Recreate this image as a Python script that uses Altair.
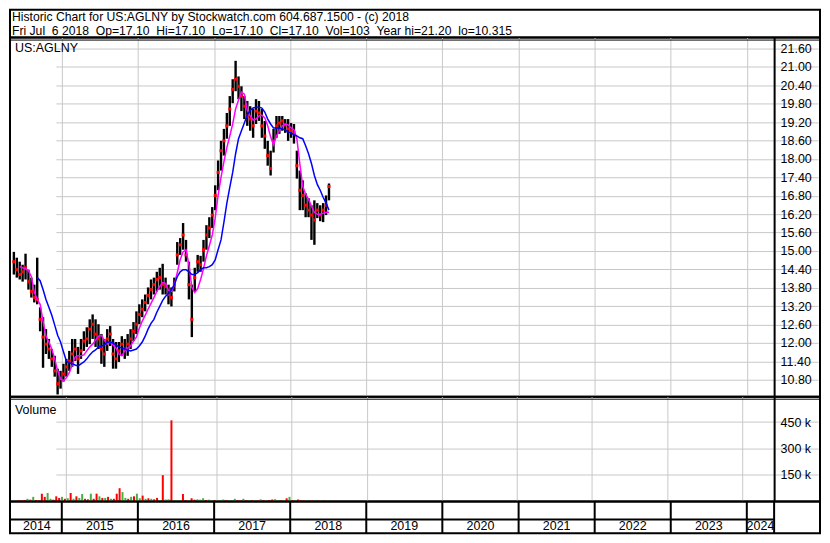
import altair as alt
import pandas as pd

FONT = "Liberation Sans"
GRID = "#c8c8c8"

header_line1 = "Historic Chart for US:AGLNY by Stockwatch.com 604.687.1500 - (c) 2018"
header_line2 = ("Fri Jul\u00a0\u00a06 2018\u00a0\u00a0Op=17.10\u00a0\u00a0Hi=17.10\u00a0\u00a0Lo=17.10"
                "\u00a0\u00a0Cl=17.10\u00a0\u00a0Vol=103\u00a0\u00a0Year hi=21.20\u00a0\u00a0lo=10.315")
symbol_label = "US:AGLNY"
volume_label = "Volume"

first_date = "2014-05-16"
step_days = 14

high = [14.97, 14.78, 14.65, 14.55, 14.91, 14.39, 14.13, 13.90, 14.78, 13.16,
        12.84, 12.45, 12.13, 11.80, 11.58, 11.16, 11.09, 11.32, 11.48, 11.74,
        12.13, 12.13, 11.87, 12.13, 12.38, 12.51, 12.77, 12.93, 12.77, 12.61,
        12.29, 12.13, 12.45, 12.55, 12.13, 12.03, 12.03, 12.22, 12.13, 12.29,
        12.45, 12.68, 13.03, 13.26, 13.42, 13.58, 13.81, 14.07, 14.13, 14.32,
        14.45, 14.58, 14.13, 13.90, 13.81, 14.13, 15.29, 15.42, 15.91, 15.36,
        14.65, 13.90, 14.45, 14.87, 14.84, 15.36, 15.84, 16.10, 16.43, 17.14,
        17.95, 18.59, 18.98, 19.50, 20.05, 20.60, 21.20, 20.69, 20.37, 20.05,
        19.89, 19.72, 19.63, 19.95, 19.89, 19.63, 19.24, 18.59, 18.27, 18.98,
        19.40, 19.40, 19.40, 19.30, 19.30, 19.17, 19.14, 18.27, 17.62, 17.30,
        16.88, 16.72, 16.49, 16.65, 16.56, 16.49, 16.56, 16.81, 17.20]
low = [14.23, 14.13, 14.07, 14.00, 14.07, 13.74, 13.48, 13.32, 13.26, 12.38,
       11.19, 11.64, 11.48, 11.22, 10.90, 10.32, 10.51, 10.74, 10.90, 11.09,
       11.22, 11.41, 10.99, 11.48, 11.74, 11.87, 11.96, 12.13, 11.87, 11.80,
       11.32, 11.22, 11.74, 11.90, 11.16, 11.16, 11.38, 11.58, 11.48, 11.58,
       11.80, 12.06, 12.29, 12.61, 12.84, 13.03, 13.26, 13.42, 13.58, 13.68,
       13.74, 13.58, 13.58, 13.26, 13.19, 13.68, 14.55, 14.87, 15.04, 14.65,
       13.42, 12.19, 13.68, 14.32, 14.32, 14.65, 15.04, 15.42, 15.75, 16.33,
       16.98, 17.62, 18.11, 18.66, 19.08, 19.82, 20.21, 19.95, 19.56, 19.30,
       19.08, 18.92, 18.69, 19.14, 19.24, 18.69, 18.33, 17.78, 17.46, 18.21,
       18.69, 18.82, 18.92, 18.85, 18.59, 18.69, 18.50, 17.36, 16.33, 16.33,
       16.10, 16.10, 15.36, 15.20, 16.07, 15.97, 15.94, 16.17, 16.65]
close = [14.65, 14.39, 14.23, 14.32, 14.45, 14.00, 13.68, 13.48, 13.42, 12.77,
         12.19, 11.96, 11.80, 11.48, 11.09, 10.67, 10.83, 10.99, 11.22, 11.41,
         11.64, 11.80, 11.48, 11.74, 12.06, 12.13, 12.45, 12.61, 12.29, 12.13,
         11.80, 11.64, 12.13, 12.29, 11.64, 11.48, 11.74, 11.96, 11.80, 11.96,
         12.13, 12.38, 12.61, 12.93, 13.10, 13.32, 13.55, 13.74, 13.90, 14.07,
         14.13, 13.90, 13.84, 13.58, 13.48, 13.90, 14.87, 15.20, 15.52, 14.87,
         13.90, 12.77, 14.13, 14.65, 14.55, 15.04, 15.52, 15.75, 16.17, 16.81,
         17.56, 18.27, 18.59, 19.08, 19.63, 20.27, 20.60, 20.37, 20.05, 19.72,
         19.40, 19.30, 19.08, 19.56, 19.50, 19.08, 18.75, 18.11, 17.69, 18.59,
         19.08, 19.17, 19.24, 19.11, 18.98, 18.92, 18.85, 17.78, 16.98, 16.81,
         16.49, 16.33, 16.17, 16.01, 16.33, 16.17, 16.33, 16.49, 17.10]
ma_short = [None, None,
            14.49, 14.45, 14.42, 14.36, 14.16, 13.65, 13.42, 13.26, 12.71, 12.22,
            12.03, 11.80, 11.48, 11.09, 10.83, 10.77, 10.86, 11.03, 11.28, 11.54,
            11.58, 11.58, 11.61, 11.74, 11.87, 11.96, 12.09, 12.22, 12.25, 12.09,
            11.96, 12.03, 11.93, 11.83, 11.64, 11.58, 11.74, 11.83, 11.90, 12.06,
            12.19, 12.48, 12.71, 12.90, 13.10, 13.29, 13.48, 13.68, 13.84, 13.97,
            13.94, 13.71, 13.68, 13.90, 14.29, 14.71, 14.97, 15.04, 14.55, 13.81,
            13.65, 13.77, 14.07, 14.42, 14.84, 15.17, 15.52, 16.07, 16.81, 17.40,
            17.91, 18.37, 18.75, 19.14, 19.63, 19.92, 20.18, 20.11, 19.59, 19.40,
            19.27, 19.30, 19.40, 19.43, 19.34, 19.08, 18.72, 18.46, 18.75, 18.92,
            19.08, 19.14, 19.11, 19.01, 18.95, 18.66, 17.85, 17.11, 16.85, 16.68,
            16.46, 16.26, 16.20, 16.20, 16.23, 16.26, 16.26]
ma_long = [None, None, None, None, None, None, None, None,
           14.13, 14.03, 13.74, 13.42, 13.16, 12.90, 12.58, 12.25, 12.03, 11.71,
           11.41, 11.35, 11.32, 11.28, 11.25, 11.32, 11.38, 11.48, 11.61, 11.71,
           11.77, 11.87, 11.90, 11.93, 12.03, 12.03, 12.00, 11.93, 11.87, 11.83,
           11.80, 11.77, 11.74, 11.77, 11.80, 11.90, 12.03, 12.22, 12.45, 12.64,
           12.77, 13.00, 13.19, 13.39, 13.52, 13.61, 13.74, 13.90, 14.16, 14.32,
           14.39, 14.39, 14.32, 14.23, 14.23, 14.29, 14.39, 14.45, 14.45, 14.49,
           14.55, 14.71, 15.04, 15.36, 15.94, 16.56, 17.07, 17.56, 18.17, 18.66,
           18.92, 19.17, 19.43, 19.59, 19.66, 19.69, 19.69, 19.66, 19.53, 19.30,
           19.14, 19.01, 19.01, 19.01, 18.98, 18.95, 18.88, 18.85, 18.79, 18.75,
           18.69, 18.66, 18.43, 18.17, 17.85, 17.46, 17.17, 16.98, 16.75, 16.56,
           16.33]
volume_k = [7, 6, 8, 15, 10, 26, 8, 6, 44, 26,
            48, 15, 10, 29, 20, 26, 15, 18, 48, 15,
            29, 20, 42, 15, 12, 44, 15, 44, 29, 20,
            20, 26, 15, 15, 44, 75, 53, 20, 15, 26,
            29, 44, 18, 33, 15, 18, 15, 12, 20, 8,
            149, 11, 12, 460, 8, 8, 8, 42, 8, 8,
            18, 10, 12, 10, 18, 8, 10, 7, 7, 6,
            7, 11, 7, 7, 6, 15, 7, 6, 15, 7,
            6, 7, 7, 6, 12, 7, 6, 8, 11, 13,
            7, 6, 7, 18, 26, 7, 6, 11, 7, 6,
            7, 5, 6, 7, 5, 6, 5, 6, 4]
volume_dir = list("dddududddd" "uudddududu" "duudduddud" "ududdduudu" "duudududdu"
                  "duuduuuddu" "dduuuduudu" "uuduuuddud" "ududududdu" "ududududdd"
                  "uddududuu")
price_ticks = [10.80, 11.40, 12.00, 12.60, 13.20, 13.80, 14.40, 15.00, 15.60, 16.20,
               16.80, 17.40, 18.00, 18.60, 19.20, 19.80, 20.40, 21.00, 21.60]
volume_ticks = [150000, 300000, 450000]
years = [2014, 2015, 2016, 2017, 2018, 2019, 2020, 2021, 2022, 2023, 2024]
view_start = "2014-05-07"
view_end = "2024-05-11"

# ---- layout
W = 812
PLOT_R = 766
H_HEAD, H_PRICE, H_VOL, H_YEAR = 28, 360, 105, 32
FS = 12.5

n = len(close)
dates = pd.date_range(first_date, periods=n, freq=f"{step_days}D")
df = pd.DataFrame({
    "date": dates.strftime("%Y-%m-%d"),
    "high": high, "low": low, "close": close,
    "ma_short": ma_short, "ma_long": ma_long,
    "volume": [v * 1000 for v in volume_k],
    "dir": ["up" if d == "u" else "down" for d in volume_dir],
})

t0 = pd.Timestamp(view_start)
t1 = pd.Timestamp(view_end)


def dt(ts):
    return alt.DateTime(year=ts.year, month=ts.month, date=ts.day, utc=True)


x_scale = alt.Scale(domain=[dt(t0), dt(t1)], range=[2, PLOT_R])
year_starts = [alt.DateTime(year=y, month=1, date=1, utc=True) for y in years[1:]]
x_grid_axis = alt.Axis(values=year_starts, grid=True, labels=False, ticks=False, domain=False,
                       title=None, gridColor=GRID, gridWidth=1)


def xg():
    return alt.X("date:T", scale=x_scale, axis=x_grid_axis)


price_scale = alt.Scale(domain=[10.247, 21.958], nice=False, zero=False)
price_axis = alt.Axis(values=price_ticks, format=".2f", orient="right", offset=-(W - PLOT_R),
                      ticks=False, domain=True, domainColor="black", domainWidth=2,
                      grid=True, gridColor=GRID, gridWidth=1, labelPadding=6, labelOverlap=False,
                      title=None, labelFont=FONT, labelFontSize=FS, labelColor="black",
                      labelAlign="left", labelBaseline="middle")


def yp(field):
    return alt.Y(field, type="quantitative", scale=price_scale, axis=price_axis)


def deco_rule(x, x2, y, y2=None, width=1):
    enc = dict(x=alt.value(x), y=alt.value(y))
    if x2 is not None:
        enc["x2"] = alt.value(x2)
    if y2 is not None:
        enc["y2"] = alt.value(y2)
    return alt.Chart(pd.DataFrame({"k": [0]})).mark_rule(color="black", strokeWidth=width).encode(**enc)


def label_text(txt, x, y, size=FS):
    return alt.Chart(pd.DataFrame({"t": [txt]})).mark_text(
        align="left", baseline="middle", font=FONT, fontSize=size, color="black"
    ).encode(x=alt.value(x), y=alt.value(y), text="t:N")


# ---- header
header = alt.layer(
    label_text(header_line1, 2, 7, 12.2),
    label_text(header_line2, 2, 21, 12.2),
).properties(width=W, height=H_HEAD)

# ---- price panel
base = alt.Chart(df)
bars = base.mark_rule(color="black", strokeWidth=2.4).encode(x=xg(), y=yp("low"), y2="high:Q")
closes = base.mark_square(color="#ff0000", size=9, opacity=1).encode(x=xg(), y=yp("close"))
mag = base.mark_line(color="#ff00ff", strokeWidth=1.5).encode(x=xg(), y=yp("ma_short"))
blue = base.mark_line(color="#0000ff", strokeWidth=1.5).encode(x=xg(), y=yp("ma_long"))
price = alt.layer(
    bars, closes, mag, blue,
    label_text(symbol_label, 5, 10.5),
    deco_rule(0, W, 2.5),
).properties(width=W, height=H_PRICE)

# ---- volume panel
vol_axis = alt.Axis(values=volume_ticks, labelExpr="datum.value / 1000 + ' k'", orient="right",
                    offset=-(W - PLOT_R), ticks=False, domain=True, domainColor="black",
                    domainWidth=2, grid=True, gridColor=GRID, gridWidth=1, labelPadding=6,
                    title=None, labelFont=FONT, labelFontSize=FS, labelColor="black",
                    labelAlign="left", labelBaseline="middle")
vbars = base.mark_bar(size=2).encode(
    x=xg(),
    y=alt.Y("volume:Q", scale=alt.Scale(domain=[0, 594000], nice=False), axis=vol_axis),
    color=alt.Color("dir:N", scale=alt.Scale(domain=["down", "up"], range=["#ff0000", "#44b044"]),
                    legend=None),
)
volume = alt.layer(
    vbars,
    label_text(volume_label, 5, 13),
    deco_rule(0, W, 2.5),
).properties(width=W, height=H_VOL)

# ---- year strip
starts_df = pd.DataFrame({"start": [f"{y}-01-01" for y in years[1:]]})
mids = []
for y in years:
    s = max(pd.Timestamp(f"{y}-01-01"), t0)
    e = min(pd.Timestamp(f"{y + 1}-01-01"), t1)
    mids.append((s + (e - s) / 2).strftime("%Y-%m-%dT%H:%M:%SZ"))
labels_df = pd.DataFrame({"year": [str(y) for y in years], "mid": mids})

year_lines = alt.Chart(starts_df).mark_rule(color="black", strokeWidth=2).encode(
    x=alt.X("start:T", scale=x_scale, axis=None), y=alt.value(0), y2=alt.value(H_YEAR))
year_text = alt.Chart(labels_df).mark_text(
    baseline="middle", align="center", font=FONT, fontSize=FS, color="black"
).encode(x=alt.X("mid:T", scale=x_scale, axis=None), y=alt.value(25), text="year:N")
strip = alt.layer(
    year_lines, year_text,
    deco_rule(0, PLOT_R, 18, width=2),
    deco_rule(PLOT_R, None, 0, H_YEAR, width=2),
).properties(width=W, height=H_YEAR)

chart = alt.vconcat(header, price, volume, strip, spacing=0, bounds="flush").properties(
    padding=0
).configure_view(stroke="black", strokeWidth=2)

chart.save("out.html", embed_options={"renderer": "svg", "actions": False})
